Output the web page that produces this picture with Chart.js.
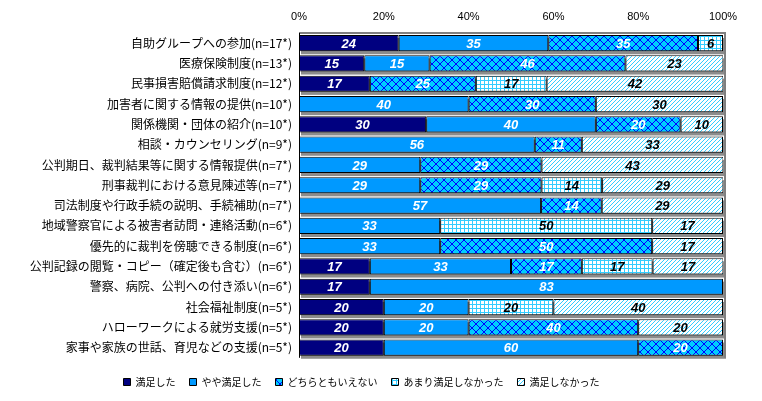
<!DOCTYPE html>
<html>
<head>
<meta charset="utf-8">
<script src="https://cdn.jsdelivr.net/npm/chart.js@4"></script>
<style>
  html, body { margin: 0; padding: 0; background: #fff; }
  #wrap { width: 762px; height: 401px; }
</style>
</head>
<body>
<div id="wrap"><canvas id="myChart" width="762" height="401"></canvas></div>
<script>
const categories = [
  '自助グループへの参加(n=17*)',
  '医療保険制度(n=13*)',
  '民事損害賠償請求制度(n=12*)',
  '加害者に関する情報の提供(n=10*)',
  '関係機関・団体の紹介(n=10*)',
  '相談・カウンセリング(n=9*)',
  '公判期日、裁判結果等に関する情報提供(n=7*)',
  '刑事裁判における意見陳述等(n=7*)',
  '司法制度や行政手続の説明、手続補助(n=7*)',
  '地域警察官による被害者訪問・連絡活動(n=6*)',
  '優先的に裁判を傍聴できる制度(n=6*)',
  '公判記録の閲覧・コピー（確定後も含む）(n=6*)',
  '警察、病院、公判への付き添い(n=6*)',
  '社会福祉制度(n=5*)',
  'ハローワークによる就労支援(n=5*)',
  '家事や家族の世話、育児などの支援(n=5*)'
];
const seriesNames = ['満足した', 'やや満足した', 'どちらともいえない', 'あまり満足しなかった', '満足しなかった'];
// percentages (labels on the bars show them rounded)
const satisfied = [23.5, 15.4, 16.7, 0, 30, 0, 0, 0, 0, 0, 0, 16.7, 16.7, 20, 20, 20];
const ratherSat = [35.3, 15.4, 0, 40, 40, 55.6, 28.6, 28.6, 57.1, 33.3, 33.3, 33.3, 83.3, 20, 20, 60];
const neither   = [35.3, 46.2, 25, 30, 20, 11.1, 28.6, 28.6, 14.3, 0, 50, 16.7, 0, 0, 40, 20];
const notVery   = [5.9, 0, 16.7, 0, 0, 0, 0, 14.3, 0, 50, 0, 16.7, 0, 20, 0, 0];
const notSat    = [0, 23.1, 41.7, 30, 10, 33.3, 42.9, 28.6, 28.6, 16.7, 16.7, 16.7, 0, 40, 20, 0];
const tickValues = [0, 20, 40, 60, 80, 100];

function makePattern(size, draw) {
  const c = document.createElement('canvas');
  c.width = size; c.height = size;
  const g = c.getContext('2d');
  draw(g, size);
  return g.createPattern(c, 'repeat');
}
const crossPat = makePattern(8, (g, s) => {
  g.fillStyle = '#00ccff'; g.fillRect(0, 0, s, s);
  g.strokeStyle = '#0000ff'; g.lineWidth = 1;
  g.beginPath();
  g.moveTo(0, 0); g.lineTo(s, s);
  g.moveTo(0, s); g.lineTo(s, 0);
  g.stroke();
});
const gridPat = makePattern(4, (g, s) => {
  g.fillStyle = '#ffffff'; g.fillRect(0, 0, s, s);
  g.fillStyle = '#33ccff';
  g.fillRect(0, 0, s, 1);
  g.fillRect(0, 0, 1, s);
});
const diagPat = makePattern(4, (g, s) => {
  g.fillStyle = '#ffffff'; g.fillRect(0, 0, s, s);
  g.strokeStyle = '#33ccff'; g.lineWidth = 1;
  g.beginPath();
  g.moveTo(-1, s + 1); g.lineTo(s + 1, -1);
  g.moveTo(-1, 1); g.lineTo(1, -1);
  g.moveTo(s - 1, s + 1); g.lineTo(s + 1, s - 1);
  g.stroke();
});

const fills = ['#000080', '#0099ff', crossPat, gridPat, diagPat];
const labelColors = ['#ffffff', '#ffffff', '#ffffff', '#000000', '#000000'];
const allData = [satisfied, ratherSat, neither, notVery, notSat];

// gray shadow under each bar, frame, and value labels
const shadowPlugin = {
  id: 'shadow',
  beforeDatasetsDraw(chart) {
    const ctx = chart.ctx;
    const x = chart.scales.x;
    const meta = chart.getDatasetMeta(0);
    ctx.save();
    ctx.fillStyle = '#8c8c8c';
    meta.data.forEach(bar => {
      const h = bar.height;
      const top = bar.y - h / 2;
      ctx.fillRect(x.getPixelForValue(0) + 2, top + 3, x.getPixelForValue(100) - x.getPixelForValue(0) + 1, h);
    });
    ctx.restore();
  },
  afterDatasetsDraw(chart) {
    const ctx = chart.ctx;
    const area = chart.chartArea;
    ctx.save();
    ctx.strokeStyle = '#808080';
    ctx.lineWidth = 2;
    ctx.beginPath();
    ctx.moveTo(area.left, area.top);
    ctx.lineTo(area.right + 2, area.top);
    ctx.lineTo(area.right + 2, area.bottom);
    ctx.stroke();
    ctx.strokeStyle = '#000000';
    ctx.lineWidth = 1;
    ctx.beginPath();
    ctx.moveTo(area.left + 0.5, area.top);
    ctx.lineTo(area.left + 0.5, area.bottom);
    ctx.stroke();
    ctx.font = 'italic bold 13px "Liberation Sans", Arial, sans-serif';
    ctx.textAlign = 'center';
    ctx.textBaseline = 'middle';
    chart.data.datasets.forEach((ds, i) => {
      chart.getDatasetMeta(i).data.forEach((bar, j) => {
        const v = ds.data[j];
        if (!v) return;
        ctx.fillStyle = labelColors[i];
        ctx.fillText(String(Math.round(v)), (bar.x + bar.base) / 2, bar.y + 1);
      });
    });
    ctx.restore();
  }
};

const ctx1 = document.getElementById('myChart');

new Chart(ctx1, {
  type: 'bar',
  data: {
    labels: categories,
    datasets: seriesNames.map((name, i) => ({
      label: name,
      data: allData[i],
      backgroundColor: fills[i],
      borderColor: '#000000',
      borderWidth: 1,
      borderSkipped: false,
      categoryPercentage: 0.8,
      barPercentage: 1.0
    }))
  },
  options: {
    indexAxis: 'y',
    responsive: false,
    animation: false,
    layout: { padding: { left: 0, right: 39, top: 4, bottom: 4 } },
    scales: {
      x: {
        position: 'top',
        stacked: true,
        min: 0,
        max: 100,
        afterBuildTicks(axis) { axis.ticks = tickValues.map(v => ({ value: v })); },
        afterFit(axis) { axis.height = 29; },
        grid: { display: false, drawTicks: false },
        border: { display: false },
        ticks: {
          padding: 9,
          color: '#000000',
          font: { family: '"Liberation Sans", Arial, sans-serif', size: 11 },
          callback: v => v + '%'
        }
      },
      y: {
        stacked: true,
        afterFit(axis) { axis.width = 299; },
        grid: { display: false, drawTicks: false },
        border: { display: false },
        ticks: {
          padding: 7,
          color: '#000000',
          autoSkip: false,
          font: { family: '"Noto Sans CJK JP", sans-serif', size: 12 }
        }
      }
    },
    plugins: {
      legend: {
        position: 'bottom',
        title: { display: true, text: '', padding: { top: 4, bottom: 0 }, font: { size: 1 } },
        labels: {
          boxWidth: 7,
          boxHeight: 7,
          padding: 14,
          color: '#000000',
          font: { family: '"Noto Sans CJK JP", sans-serif', size: 10 }
        }
      },
      tooltip: { enabled: false }
    }
  },
  plugins: [shadowPlugin]
});
</script>
</body>
</html>
